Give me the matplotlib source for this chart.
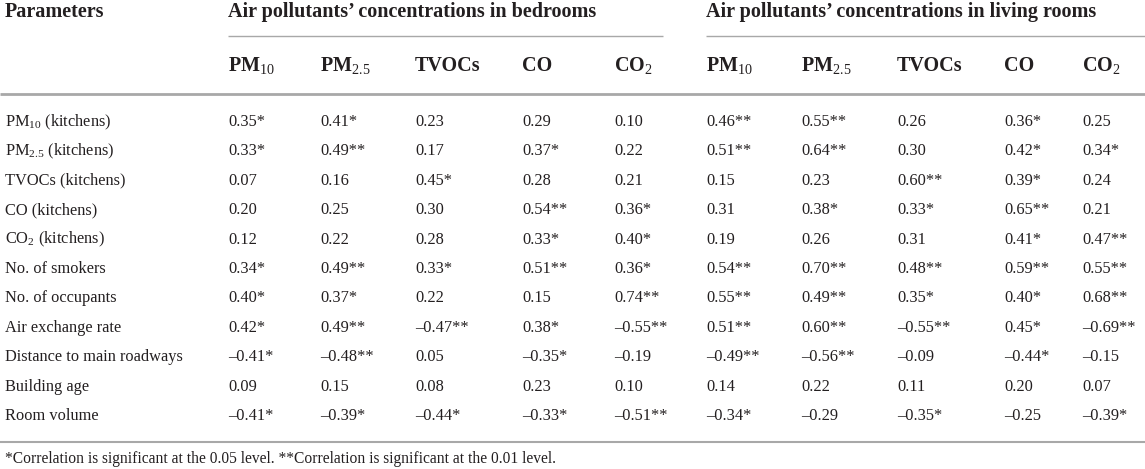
import matplotlib
matplotlib.use("Agg")
import matplotlib.pyplot as plt

# ---- data ----
row_labels = [
    "PM$_{10}$ (kitchens)", "PM$_{2.5}$ (kitchens)", "TVOCs (kitchens)",
    "CO (kitchens)", "CO$_{2}$ (kitchens)", "No. of smokers", "No. of occupants",
    "Air exchange rate", "Distance to main roadways", "Building age", "Room volume",
]
pollutants = ["PM$_{10}$", "PM$_{2.5}$", "TVOCs", "CO", "CO$_{2}$"]
groups = ["Air pollutants\u2019 concentrations in bedrooms",
          "Air pollutants\u2019 concentrations in living rooms"]

bedroom_r = [
    [0.35, 0.41, 0.23, 0.29, 0.10],
    [0.33, 0.49, 0.17, 0.37, 0.22],
    [0.07, 0.16, 0.45, 0.28, 0.21],
    [0.20, 0.25, 0.30, 0.54, 0.36],
    [0.12, 0.22, 0.28, 0.33, 0.40],
    [0.34, 0.49, 0.33, 0.51, 0.36],
    [0.40, 0.37, 0.22, 0.15, 0.74],
    [0.42, 0.49, -0.47, 0.38, -0.55],
    [-0.41, -0.48, 0.05, -0.35, -0.19],
    [0.09, 0.15, 0.08, 0.23, 0.10],
    [-0.41, -0.39, -0.44, -0.33, -0.51],
]
bedroom_sig = [
    [1, 1, 0, 0, 0],
    [1, 2, 0, 1, 0],
    [0, 0, 1, 0, 0],
    [0, 0, 0, 2, 1],
    [0, 0, 0, 1, 1],
    [1, 2, 1, 2, 1],
    [1, 1, 0, 0, 2],
    [1, 2, 2, 1, 2],
    [1, 2, 0, 1, 0],
    [0, 0, 0, 0, 0],
    [1, 1, 1, 1, 2],
]
living_r = [
    [0.46, 0.55, 0.26, 0.36, 0.25],
    [0.51, 0.64, 0.30, 0.42, 0.34],
    [0.15, 0.23, 0.60, 0.39, 0.24],
    [0.31, 0.38, 0.33, 0.65, 0.21],
    [0.19, 0.26, 0.31, 0.41, 0.47],
    [0.54, 0.70, 0.48, 0.59, 0.55],
    [0.55, 0.49, 0.35, 0.40, 0.68],
    [0.51, 0.60, -0.55, 0.45, -0.69],
    [-0.49, -0.56, -0.09, -0.44, -0.15],
    [0.14, 0.22, 0.11, 0.20, 0.07],
    [-0.34, -0.29, -0.35, -0.25, -0.39],
]
living_sig = [
    [2, 2, 0, 1, 0],
    [2, 2, 0, 1, 1],
    [0, 0, 2, 1, 0],
    [0, 1, 1, 2, 0],
    [0, 0, 0, 1, 2],
    [2, 2, 2, 2, 2],
    [2, 2, 1, 1, 2],
    [2, 2, 2, 1, 2],
    [2, 2, 0, 1, 0],
    [0, 0, 0, 0, 0],
    [1, 0, 1, 0, 1],
]
footnote = ("*Correlation is significant at the 0.05 level. "
            "**Correlation is significant at the 0.01 level.")

# ---- layout (pixels, y grows downward) ----
W, H = 1145, 469
TXT = "#231f20"
LINE = "#a8a8a8"
col_x = [228, 320, 415, 522, 614, 706, 801, 897, 1004, 1082]
group_span = [(228, 663), (706, 1145)]
x_left = 5
y_group, y_uline, y_sub, y_rule = 12, 36, 66, 94
y_row0, dy = 122, 29.4
y_bot, y_note = 442, 459

plt.rcParams["font.family"] = ["Liberation Serif", "DejaVu Serif"]
plt.rcParams["mathtext.fontset"] = "custom"
plt.rcParams["mathtext.rm"] = "Liberation Serif"
plt.rcParams["mathtext.bf"] = "Liberation Serif:bold"
plt.rcParams["mathtext.it"] = "Liberation Serif:italic"


def fmt(v, s):
    txt = f"{abs(v):.2f}"
    if v < 0:
        txt = "\u2013" + txt
    return txt + "*" * s


fig = plt.figure(figsize=(W / 100, H / 100), dpi=100)
ax = fig.add_axes([0, 0, 1, 1])
ax.set_xlim(0, W)
ax.set_ylim(H, 0)
ax.axis("off")

hdr = dict(fontsize=14.5, fontweight="bold", color=TXT, va="center", ha="left")
body = dict(fontsize=11.8, color=TXT, va="center", ha="left")

ax.text(x_left, y_group, "Parameters", **hdr)
for g, (x0, x1) in zip(groups, group_span):
    ax.text(x0, y_group, g, **hdr)
    ax.plot([x0, x1], [y_uline, y_uline], color=LINE, lw=1.0,
            solid_capstyle="butt")

for i, x in enumerate(col_x):
    ax.text(x, y_sub, pollutants[i % 5], **hdr)

ax.plot([0, W], [y_rule, y_rule], color=LINE, lw=2.0, solid_capstyle="butt")

for r, lab in enumerate(row_labels):
    y = y_row0 + r * dy
    ax.text(x_left, y, lab, **body)
    vals = [fmt(v, s) for v, s in zip(bedroom_r[r], bedroom_sig[r])]
    vals += [fmt(v, s) for v, s in zip(living_r[r], living_sig[r])]
    for x, t in zip(col_x, vals):
        ax.text(x, y, t, **body)

ax.plot([0, W], [y_bot, y_bot], color=LINE, lw=1.5, solid_capstyle="butt")
ax.text(x_left, y_note, footnote, fontsize=11.2, color=TXT,
        va="center", ha="left")

fig.savefig("out.png", dpi=100)
